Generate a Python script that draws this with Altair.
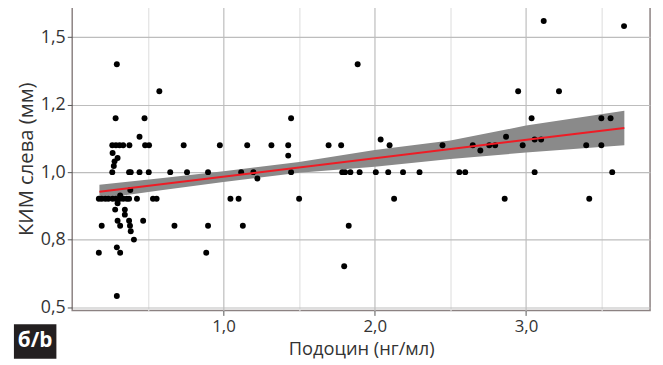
import altair as alt
import pandas as pd

# Scatter points: Подоцин (x) and КИМ слева (y, in axis units)
X_VALS = [0.295, 0.576, 0.287, 0.478, 0.445,
          0.265, 0.289, 0.313, 0.337, 0.378, 0.482, 0.508, 0.737, 0.976, 1.157, 1.317,
          0.267, 0.300, 0.280, 0.275, 0.265,
          0.376, 0.387, 0.445, 0.506, 0.648, 0.759, 0.898, 1.117, 1.198, 1.224,
          0.176, 0.195, 0.219, 0.239, 0.267, 0.289, 0.315, 0.337, 0.361, 0.376, 0.428, 0.534, 0.558, 1.046, 1.100,
          0.317, 0.300, 0.384, 0.284, 0.348, 0.348, 0.300, 0.376, 0.469,
          0.195, 0.317, 0.382, 0.676, 0.898, 1.128,
          0.387, 0.408, 0.295,
          0.176, 0.317, 0.886,
          0.295,
          1.887, 1.447,
          1.428, 1.695, 1.778, 2.098, 2.448, 2.648,
          1.428, 2.039, 2.698,
          1.447, 1.785, 1.804, 1.839, 1.900, 2.007, 2.089, 2.187, 2.296, 2.559, 2.598,
          1.500, 2.128, 1.828, 1.798,
          3.117, 3.648, 2.948, 3.218, 3.037, 3.498, 3.559, 2.868, 3.057, 3.100,
          2.757, 2.796, 2.978, 3.398, 3.498, 3.057, 3.570,
          2.859, 3.418]
Y_VALS = [1.320, 1.240, 1.160, 1.160, 1.105,
          1.080, 1.080, 1.080, 1.080, 1.080, 1.080, 1.080, 1.080, 1.080, 1.080, 1.080,
          1.057, 1.042, 1.032, 1.018, 1.000,
          1.000, 1.000, 1.000, 1.000, 1.000, 1.000, 1.000, 1.000, 1.000, 0.981,
          0.921, 0.921, 0.921, 0.921, 0.921, 0.921, 0.921, 0.921, 0.921, 0.921, 0.921, 0.921, 0.921, 0.921, 0.921,
          0.931, 0.908, 0.947, 0.889, 0.889, 0.874, 0.856, 0.856, 0.856,
          0.841, 0.841, 0.841, 0.841, 0.841, 0.841,
          0.825, 0.800, 0.777,
          0.761, 0.761, 0.761,
          0.633,
          1.320, 1.160,
          1.080, 1.080, 1.080, 1.080, 1.080, 1.080,
          1.049, 1.097, 1.064,
          1.000, 1.000, 1.000, 1.000, 1.000, 1.000, 1.000, 1.000, 1.000, 1.000, 1.000,
          0.921, 0.921, 0.841, 0.721,
          1.448, 1.433, 1.240, 1.240, 1.160, 1.160, 1.160, 1.105, 1.097, 1.097,
          1.080, 1.080, 1.080, 1.080, 1.080, 1.000, 1.000,
          0.921, 0.921]

# Regression line and confidence band
FIT_X = [0.18, 3.65]
FIT_Y = [0.942, 1.131]
BAND_X = [0.18, 0.6, 1.0, 1.5, 2.0, 2.5, 3.0, 3.65]
BAND_LO = [0.921, 0.947, 0.971, 0.998, 1.016, 1.039, 1.058, 1.080]
BAND_HI = [0.963, 0.983, 1.003, 1.030, 1.066, 1.094, 1.138, 1.182]

X_TICKS = [0.5, 1.0, 1.5, 2.0, 2.5, 3.0, 3.5]
X_LABEL_TICKS = [1.0, 2.0, 3.0]
X_LABELS = ["1,0", "2,0", "3,0"]
Y_TICKS = [0.6, 0.7, 0.8, 0.9, 1.0, 1.1, 1.2, 1.3, 1.4]
Y_LABEL_TICKS = [0.6, 0.8, 1.0, 1.2, 1.4]
Y_LABELS = ["0,5", "0,8", "1,0", "1,2", "1,5"]

pts = pd.DataFrame({"x": X_VALS, "y": Y_VALS})
fit = pd.DataFrame({"x": FIT_X, "y": FIT_Y})
band = pd.DataFrame({"x": BAND_X, "lo": BAND_LO, "hi": BAND_HI})


def label_expr(ticks, labels):
    expr = "''"
    for t, l in zip(ticks, labels):
        expr = f"abs(datum.value - {t}) < 0.01 ? '{l}' : ({expr})"
    return expr


FONT = "Open Sans"
MAJOR = "#bdbdbd"
MINOR = "#e2e2e2"

x_major_test = "abs(datum.value - round(datum.value)) < 0.01"
y_major_test = "abs(datum.value*10 - 2*round(datum.value*5)) < 0.01"

xscale = alt.Scale(domain=[0, 3.82], nice=False, zero=False)
yscale = alt.Scale(domain=[0.59, 1.489], nice=False, zero=False)

xaxis = alt.Axis(
    values=X_TICKS, labelExpr=label_expr(X_LABEL_TICKS, X_LABELS),
    title="Подоцин (нг/мл)", grid=True,
    gridColor={"condition": {"test": x_major_test, "value": MAJOR}, "value": MINOR},
    gridWidth=1.2,
    tickOpacity={"condition": {"test": x_major_test, "value": 1}, "value": 0},
    tickColor="#555", tickSize=5, domain=False,
    labelFont=FONT, labelFontSize=17, labelColor="#333", labelPadding=3,
    titleFont=FONT, titleFontSize=18.5, titleFontWeight="normal", titleColor="#333",
    titlePadding=6,
)
yaxis = alt.Axis(
    values=Y_TICKS, labelExpr=label_expr(Y_LABEL_TICKS, Y_LABELS),
    title="КИМ слева (мм)", grid=True,
    gridColor={"condition": {"test": y_major_test, "value": MAJOR}, "value": MINOR},
    gridWidth=1.2,
    tickOpacity={"condition": {"test": y_major_test, "value": 1}, "value": 0},
    tickColor="#555", tickSize=5, domain=False,
    labelFont=FONT, labelFontSize=18, labelColor="#333", labelPadding=2,
    titleFont=FONT, titleFontSize=20.5, titleFontWeight="normal", titleColor="#333",
    titlePadding=4,
)

band_layer = alt.Chart(band).mark_area(color="#8a8a8a", opacity=1).encode(
    x=alt.X("x:Q", scale=xscale, axis=xaxis),
    y=alt.Y("lo:Q", scale=yscale, axis=yaxis),
    y2="hi:Q",
)
pts_layer = alt.Chart(pts).mark_circle(color="black", size=36, opacity=1).encode(
    x=alt.X("x:Q", scale=xscale),
    y=alt.Y("y:Q", scale=yscale),
)
fit_layer = alt.Chart(fit).mark_line(color="#ee1c25", strokeWidth=2).encode(
    x=alt.X("x:Q", scale=xscale),
    y=alt.Y("y:Q", scale=yscale),
)
badge_box = alt.Chart(pd.DataFrame({"t": ["б/b"]})).mark_rect(color="#231f20").encode(
    x=alt.value(-59), x2=alt.value(-16), y=alt.value(321), y2=alt.value(356)
)
badge_text = alt.Chart(pd.DataFrame({"t": ["б/b"]})).mark_text(
    color="white", font=FONT, fontSize=21, fontWeight="bold", align="center", baseline="middle"
).encode(x=alt.value(-37.5), y=alt.value(338), text="t:N")

chart = alt.layer(band_layer, pts_layer, fit_layer, badge_box, badge_text).properties(
    width=585, height=307,
    autosize=alt.AutoSizeParams(type="none"),
    padding={"left": 65, "top": -3, "right": 5, "bottom": 50},
).configure_view(stroke="#8c8282", strokeWidth=1.5)

chart.save("out.html", embed_options={"renderer": "svg", "actions": False})
